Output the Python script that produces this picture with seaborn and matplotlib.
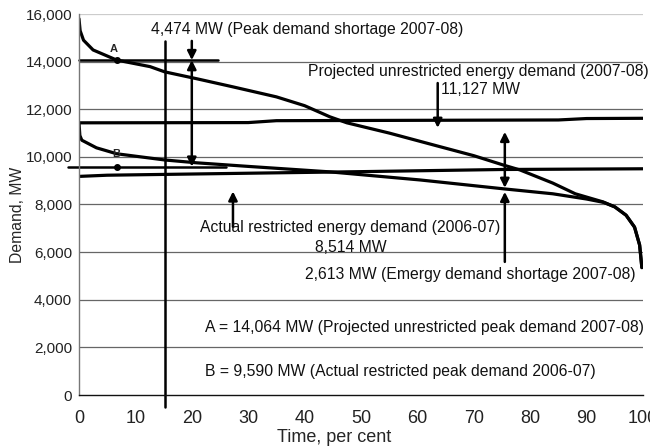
import numpy as np
import pandas as pd
import matplotlib
matplotlib.use("Agg")
import matplotlib.pyplot as plt
import seaborn as sns

# ---- data ----
proj_x = [0, 0.2, 0.8, 2.5, 6.7, 12.6, 15.2, 20.9, 27.3, 35, 40, 44.5, 47.5, 55, 63.5, 70, 75.2,
          78.2, 84, 88, 92.9, 95, 97, 98.5, 99.4, 99.8]
proj_y = [15800, 15300, 14900, 14490, 14064, 13790, 13570, 13280, 12940, 12520, 12150, 11680, 11430,
          11000, 10460, 10050, 9660, 9450, 8900, 8450, 8110, 7900, 7550, 7050, 6300, 5350]

act_x = [0, 0.15, 0.5, 3.1, 6.7, 15.2, 20.9, 30, 44.5, 60.5, 75.2, 84, 90, 93, 95, 97, 98.5, 99.4, 99.8]
act_y = [11430, 10900, 10700, 10380, 10130, 9870, 9750, 9600, 9370, 9030, 8660, 8450, 8230, 8090,
         7900, 7550, 7050, 6300, 5350]

proj_energy_x = [0, 30, 35, 85, 90, 100]
proj_energy_y = [11430, 11440, 11520, 11550, 11610, 11620]

act_energy_x = [0, 5, 50, 75, 100]
act_energy_y = [9180, 9230, 9380, 9470, 9500]

peak_A = 14064
peak_B = 9590
peak_pct = 6.7
A_line_x = [0, 24.7]
B_line_x = [-2, 26]

vline_x = 15.2
vline_y = [-500, 14870]

# arrows: (x, y_from, y_to, style)
arrows_x = [20, 20, 27.3, 63.6, 75.5, 75.5]
arrows_from = [14870, 14064, 7060, 13100, 11050, 5590]
arrows_to = [14064, 9590, 8550, 11220, 8700, 8530]
arrows_style = ["-|>", "<|-|>", "-|>", "-|>", "<|-|>", "-|>"]

labels_text = [
    "4,474 MW (Peak demand shortage 2007-08)",
    "Projected unrestricted energy demand (2007-08)",
    "11,127 MW",
    "Actual restricted energy demand (2006-07)",
    "8,514 MW",
    "2,613 MW (Emergy demand shortage 2007-08)",
    "A = 14,064 MW (Projected unrestricted peak demand 2007-08)",
    "B = 9,590 MW (Actual restricted peak demand 2006-07)",
]
labels_x = [12.8, 40.6, 64.2, 21.5, 41.8, 40.0, 22.3, 22.3]
labels_y = [15330, 13570, 12810, 7020, 6180, 5040, 2820, 970]

x_ticks = [0, 10, 20, 30, 40, 50, 60, 70, 80, 90, 100]
y_ticks = [0, 2000, 4000, 6000, 8000, 10000, 12000, 14000, 16000]

# ---- styling ----
sns.set_theme(style="white")
plt.rcParams["font.family"] = ["Liberation Sans", "DejaVu Sans"]

fig = plt.figure(figsize=(6.5, 4.48), dpi=100)
ax = fig.add_axes([79 / 650, 1 - 395 / 448, (643 - 79) / 650, (395 - 14) / 448])

ax.set_xlim(0, 100)
ax.set_ylim(0, 16000)
ax.set_xticks(x_ticks)
ax.set_yticks(y_ticks)
ax.set_yticklabels([f"{v:,}" for v in y_ticks])
ax.tick_params(axis="both", colors="#222222")
ax.tick_params(axis="y", direction="out", length=4, width=1, color="#555555", pad=1, labelsize=11)
ax.tick_params(axis="x", direction="in", length=3, width=1, color="#222222", pad=11, labelsize=13)

ax.yaxis.grid(True, color="#666666", lw=0.9)
ax.set_axisbelow(True)
gl = ax.yaxis.get_gridlines()
gl[-1].set_color("#cccccc")
gl[0].set_visible(False)

for s in ["top", "right"]:
    ax.spines[s].set_visible(False)
ax.spines["left"].set_color("#777777")
ax.spines["left"].set_linewidth(1)
ax.spines["bottom"].set_color("#111111")
ax.spines["bottom"].set_linewidth(1)

lw = 2.3
df_proj = pd.DataFrame({"x": proj_x, "y": proj_y})
df_act = pd.DataFrame({"x": act_x, "y": act_y})
sns.lineplot(data=df_proj, x="x", y="y", ax=ax, color="black", lw=lw, sort=False, estimator=None)
sns.lineplot(data=df_act, x="x", y="y", ax=ax, color="black", lw=lw, sort=False, estimator=None)
ax.plot(proj_energy_x, proj_energy_y, color="black", lw=lw, solid_capstyle="butt")
ax.plot(act_energy_x, act_energy_y, color="black", lw=lw, solid_capstyle="butt")
ax.plot(A_line_x, [peak_A, peak_A], color="black", lw=1.8, clip_on=False)
ax.plot(B_line_x, [peak_B, peak_B], color="black", lw=1.8, clip_on=False)
ax.plot([vline_x, vline_x], vline_y, color="black", lw=1.8, clip_on=False)
ax.plot([peak_pct, peak_pct], [peak_A, peak_B], "o", color="black", ms=4)
ax.text(peak_pct - 1.3, peak_A + 450, "A", fontsize=8, fontweight="bold", ha="left", va="center")
ax.text(peak_pct - 0.8, 10130, "B", fontsize=8, fontweight="bold", ha="left", va="center")

for xa, y0, y1, st in zip(arrows_x, arrows_from, arrows_to, arrows_style):
    ax.annotate("", xy=(xa, y1), xytext=(xa, y0),
                arrowprops=dict(arrowstyle=st, color="black", lw=1.8,
                                mutation_scale=13, shrinkA=0, shrinkB=0))

for t, xt, yt in zip(labels_text, labels_x, labels_y):
    ax.text(xt, yt, t, fontsize=11.3, ha="left", va="center", color="#111111")

ax.set_xlabel("Time, per cent", fontsize=13)
ax.set_ylabel("Demand, MW", fontsize=11.3)
ax.xaxis.set_label_coords((334 - 79) / 564, -(437 - 395) / 381)
ax.yaxis.set_label_coords(-(79 - 17) / 564, (395 - 215) / 381)
ax.xaxis.label.set_va("center")
ax.yaxis.label.set_va("center")

fig.savefig("out.png", dpi=100)
